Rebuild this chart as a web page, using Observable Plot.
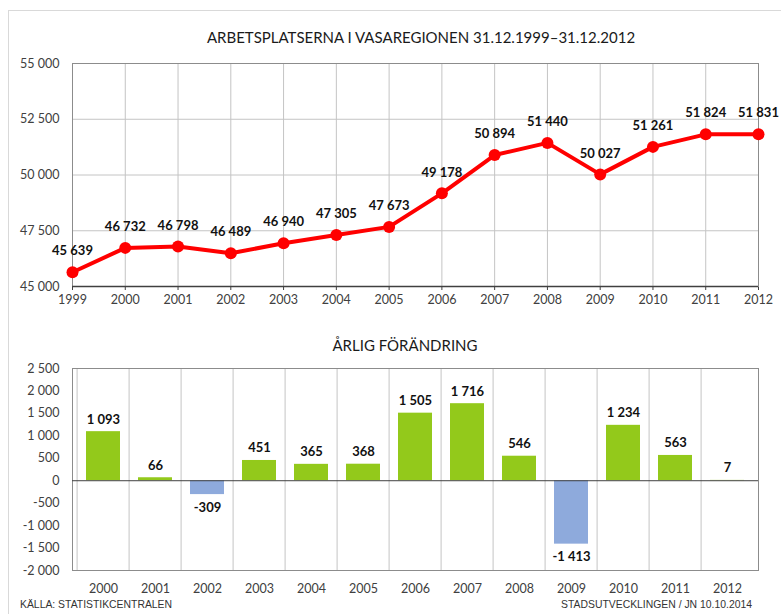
<!DOCTYPE html>
<html><head><meta charset="utf-8">
<script src="https://cdn.jsdelivr.net/npm/d3@7"></script>
<script src="https://cdn.jsdelivr.net/npm/@observablehq/plot@0.6"></script>
<style>
body{margin:0;background:#fff;font-family:Lato,sans-serif;overflow:hidden}
#wrap{position:relative;width:781px;height:614px;overflow:hidden}
#border{position:absolute;left:8px;top:10px;width:800px;height:640px;border:1px solid #d9d9d9}
.title{position:absolute;transform:translateX(-50%);font-size:15px;color:#1a1a1a;white-space:nowrap;line-height:1}
.foot{position:absolute;font-family:"Liberation Sans Narrow","Liberation Sans",sans-serif;font-size:10.4px;color:#333;line-height:1;white-space:nowrap}
#top,#bot{position:absolute;left:0}
#top{top:0}
#bot{top:315px}
</style></head><body>
<div id="wrap">
<div id="border"></div>
<div id="top"></div>
<div id="bot"></div>
<div class="title" style="left:421px;top:30px">ARBETSPLATSERNA I VASAREGIONEN 31.12.1999–31.12.2012</div>
<div class="title" style="left:405px;top:338px">ÅRLIG FÖRÄNDRING</div>
<div class="foot" style="left:20px;top:600px">KÄLLA: STATISTIKCENTRALEN</div>
<div class="foot" style="right:29px;top:600px">STADSUTVECKLINGEN / JN 10.10.2014</div>
</div>
<script>
const years = [1999, 2000, 2001, 2002, 2003, 2004, 2005, 2006, 2007, 2008, 2009, 2010, 2011, 2012];
const employment = [45639, 46732, 46798, 46489, 46940, 47305, 47673, 49178, 50894, 51440, 50027, 51261, 51824, 51831];
const changeYears = ["2000", "2001", "2002", "2003", "2004", "2005", "2006", "2007", "2008", "2009", "2010", "2011", "2012"];
const changes = [1093, 66, -309, 451, 365, 368, 1505, 1716, 546, -1413, 1234, 563, 7];
const yTicksTop = [45000, 47500, 50000, 52500, 55000];
const yTicksBottom = [-2000, -1500, -1000, -500, 0, 500, 1000, 1500, 2000, 2500];

const loc = d3.formatLocale({decimal: ",", thousands: " ", grouping: [3], currency: ["", ""], minus: "-"});
const fmt = loc.format(",d");

const topData = years.map((y, i) => ({year: y, v: employment[i]}));
const botData = changeYears.map((y, i) => ({year: y, v: changes[i]}));

const topPlot = Plot.plot({
  width: 781, height: 315,
  marginLeft: 72, marginRight: 23, marginTop: 63, marginBottom: 29,
  style: {fontFamily: "Lato, sans-serif", fontSize: "12.5px", color: "#404040", background: "transparent", overflow: "visible"},
  x: {domain: [1999, 2012], ticks: years, tickFormat: d => String(d), label: null, tickSize: 4, tickPadding: 5},
  y: {domain: [45000, 55000], ticks: yTicksTop, tickFormat: fmt, label: null, tickSize: 0, tickPadding: 13},
  marks: [
    Plot.gridX(years, {stroke: "#c4c4c4", strokeOpacity: 1}),
    Plot.gridY(yTicksTop, {stroke: "#c4c4c4", strokeOpacity: 1}),
    Plot.frame({stroke: "#8c8c8c"}),
    Plot.ruleY([45000], {stroke: "#404040", strokeWidth: 1.5}),
    Plot.line(topData, {x: "year", y: "v", stroke: "#ff0000", strokeWidth: 4}),
    Plot.dot(topData, {x: "year", y: "v", r: 6, fill: "#ff0000"}),
    Plot.text(topData, {x: "year", y: "v", text: d => fmt(d.v), dy: -21, fontWeight: "bold", fontSize: 13, fill: "#111"})
  ]
});
document.getElementById("top").append(topPlot);

const botPlot = Plot.plot({
  width: 781, height: 285,
  marginLeft: 72, marginRight: 23, marginTop: 53, marginBottom: 30,
  style: {fontFamily: "Lato, sans-serif", fontSize: "12.5px", color: "#404040", background: "transparent", overflow: "visible"},
  x: {type: "band", domain: changeYears, paddingInner: 0.34, paddingOuter: 0.17, label: null, tickSize: 0, tickPadding: 14},
  y: {domain: [-2000, 2500], ticks: yTicksBottom, tickFormat: fmt, label: null, tickSize: 0, tickPadding: 13},
  marks: [
    Plot.ruleX(changeYears, {x: d => d, dx: -26.4, stroke: "#c4c4c4"}),
    Plot.frame({stroke: "#8c8c8c"}),
    Plot.barY(botData, {x: "year", y: "v", fill: d => d.v >= 0 ? "#93c91b" : "#8eaadc"}),
    Plot.ruleY([0], {stroke: "#404040"}),
    Plot.text(botData.filter(d => d.v >= 0), {x: "year", y: "v", text: d => fmt(d.v), lineAnchor: "bottom", dy: -8, fontWeight: "bold", fontSize: 13, fill: "#111"}),
    Plot.text(botData.filter(d => d.v < 0), {x: "year", y: "v", text: d => fmt(d.v), lineAnchor: "top", dy: 8, fontWeight: "bold", fontSize: 13, fill: "#111"})
  ]
});
document.getElementById("bot").append(botPlot);
</script>
</body></html>
